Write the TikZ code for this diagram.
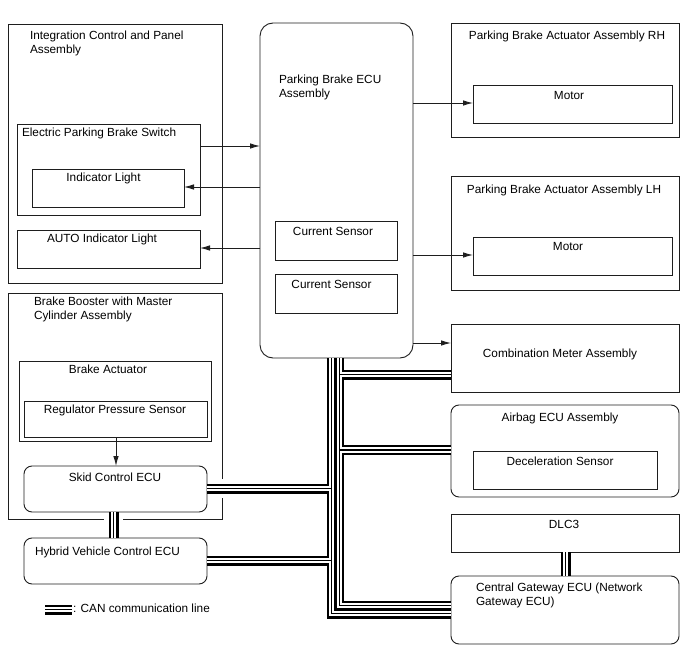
\documentclass[tikz,border=0pt]{standalone}
\usepackage{fontspec}
\setmainfont{Liberation Sans}
\usepackage{tikz}
\usetikzlibrary{arrows.meta, positioning, calc}
\definecolor{cLine}{RGB}{30,30,30}
\tikzset{
	box/.style     ={rectangle, draw=cLine, line width=0.9pt, inner sep=0pt, outer sep=0pt, anchor=north west},
	rbox/.style    ={box, rounded corners=8pt},
	lbl/.style     ={inner sep=0pt, outer sep=0pt, align=left, font=\fontsize{11.8}{13.5}\selectfont},
	sig/.style     ={-{Latex[length=10pt, width=5.5pt]}, line width=0.9pt, draw=cLine},
	canouter/.style={line width=10pt, draw=black},
	caninner/.style={line width=5.2pt, draw=white},
	canmid/.style  ={line width=1.1pt, draw=black},
	canhalo/.style ={line width=19pt, draw=white},
}
\newcommand{\canpath}[1]{\draw[canouter] #1; \draw[caninner] #1; \draw[canmid] #1;}

\begin{document}
\begin{tikzpicture}[x=1pt, y=-1pt]
	\path[use as bounding box, fill=white] (0,0) rectangle (688,658);
	\node[box, minimum width=214pt, minimum height=259pt] (icp) at (8,24) {};
	\node[box, minimum width=183pt, minimum height=91pt] (esw) at (17,124) {};
	\node[box, minimum width=152pt, minimum height=38pt] (ind) at (32,169) {};
	\node[box, minimum width=183pt, minimum height=38pt] (auto) at (17,230) {};
	\node[rbox, rounded corners=13pt, minimum width=153pt, minimum height=335pt] (ecu) at (260,23) {};
	\node[box, minimum width=122pt, minimum height=39pt] (cs1) at (275,221) {};
	\node[box, minimum width=122pt, minimum height=39pt] (cs2) at (275,274) {};
	\node[box, minimum width=228pt, minimum height=114pt] (rh) at (451,23) {};
	\node[box, minimum width=199pt, minimum height=38pt] (mrh) at (473,85) {};
	\node[box, minimum width=228pt, minimum height=114pt] (lh) at (451,176) {};
	\node[box, minimum width=199pt, minimum height=38pt] (mlh) at (473,237) {};
	\node[box, minimum width=228pt, minimum height=68pt] (cmb) at (451,324) {};
	\node[rbox, minimum width=228pt, minimum height=92pt] (abg) at (451,405) {};
	\node[box, minimum width=184pt, minimum height=38pt] (dec) at (473,451) {};
	\node[box, minimum width=228pt, minimum height=38pt] (dlc) at (451,514) {};
	\node[rbox, minimum width=228pt, minimum height=68pt] (cgw) at (451,576) {};
	\node[box, minimum width=214pt, minimum height=226pt] (bbm) at (8,293) {};
	\node[box, minimum width=192pt, minimum height=80pt] (act) at (19,361) {};
	\node[box, minimum width=183pt, minimum height=36pt] (rps) at (24,401) {};
	\node[rbox, minimum width=183pt, minimum height=46pt] (skid) at (24,466) {};
	\node[rbox, minimum width=183pt, minimum height=46pt] (hv) at (24,538) {};

	\node[lbl, anchor=north west] (icpT) at (30,31) {Integration Control and Panel\\Assembly};
	\node[lbl, anchor=north west] (eswT) at (22,128) {Electric Parking Brake Switch};
	\node[lbl, anchor=north] (indT) at (103.5,173) {Indicator Light};
	\node[lbl, anchor=north] (autoT) at (102,234) {AUTO Indicator Light};
	\node[lbl, anchor=north west] (ecuT) at (279,75) {Parking Brake ECU\\Assembly};
	\node[lbl, anchor=north] (cs1T) at (333,227) {Current Sensor};
	\node[lbl, anchor=north] (cs2T) at (331.5,280) {Current Sensor};
	\node[lbl, anchor=north] (rhT) at (567,31) {Parking Brake Actuator Assembly RH};
	\node[lbl, anchor=north] (mrhT) at (569,91) {Motor};
	\node[lbl, anchor=north] (lhT) at (564,185) {Parking Brake Actuator Assembly LH};
	\node[lbl, anchor=north] (mlhT) at (568,242) {Motor};
	\node[lbl, anchor=north] (cmbT) at (560,349) {Combination Meter Assembly};
	\node[lbl, anchor=north] (abgT) at (560,413) {Airbag ECU Assembly};
	\node[lbl, anchor=north] (decT) at (560,457) {Deceleration Sensor};
	\node[lbl, anchor=north] (dlcT) at (564,520) {DLC3};
	\node[lbl, anchor=north west] (cgwT) at (476,583) {Central Gateway ECU (Network\\Gateway ECU)};
	\node[lbl, anchor=north west] (bbmT) at (34,297) {Brake Booster with Master\\Cylinder Assembly};
	\node[lbl, anchor=north] (actT) at (108,365) {Brake Actuator};
	\node[lbl, anchor=north] (rpsT) at (115,405) {Regulator Pressure Sensor};
	\node[lbl, anchor=north] (skidT) at (115,473) {Skid Control ECU};
	\node[lbl, anchor=north west] (hvT) at (35,547) {Hybrid Vehicle Control ECU};

	\draw[sig] (esw.east |- 0,146) -- (ecu.west |- 0,146);
	\draw[sig] (ecu.west |- 0,187) -- (ind.east |- 0,187);
	\draw[sig] (ecu.west |- 0,248) -- (auto.east |- 0,248);
	\draw[sig] (ecu.east |- 0,103) -- (mrh.west |- 0,103);
	\draw[sig] (ecu.east |- 0,255) -- (mlh.west |- 0,255);
	\draw[sig] (ecu.east |- 0,343) -- (cmb.west |- 0,343);
	\draw[sig] (rps.south -| 116,0) -- (skid.north -| 116,0);

	% CAN
	\draw[canhalo] ([yshift=4pt]bbm.south -| 113.5,0) -- ([yshift=-4pt]bbm.south -| 113.5,0);
	\draw[canhalo] ([xshift=-4pt]bbm.east |- 0,488.5) -- ([xshift=4pt]bbm.east |- 0,488.5);
	\canpath{(ecu.south -| 331.5,0) -- (331.5,613.5) -- (cgw.west |- 0,613.5) (331.5,488.5) -- (skid.east |- 0,488.5) (331.5,560.5) -- (hv.east |- 0,560.5)}
	\canpath{(ecu.south -| 339.2,0) -- (339.2,605.8) -- (cgw.west |- 0,605.8) (339.2,374.5) -- (cmb.west |- 0,374.5) (339.2,450) -- (abg.west |- 0,450)}
	\canpath{(skid.south -| 113.5,0) -- (hv.north -| 113.5,0)}
	\canpath{(dlc.south -| 565.5,0) -- (cgw.north -| 565.5,0)}
	\coordinate (lgA) at (45,609.5);
	\coordinate (lgB) at (72,609.5);
	\canpath{(lgA) -- (lgB)}
	\node[lbl, anchor=north west] (lgT) at (73,604) {: CAN communication line};
\end{tikzpicture}
\end{document}
